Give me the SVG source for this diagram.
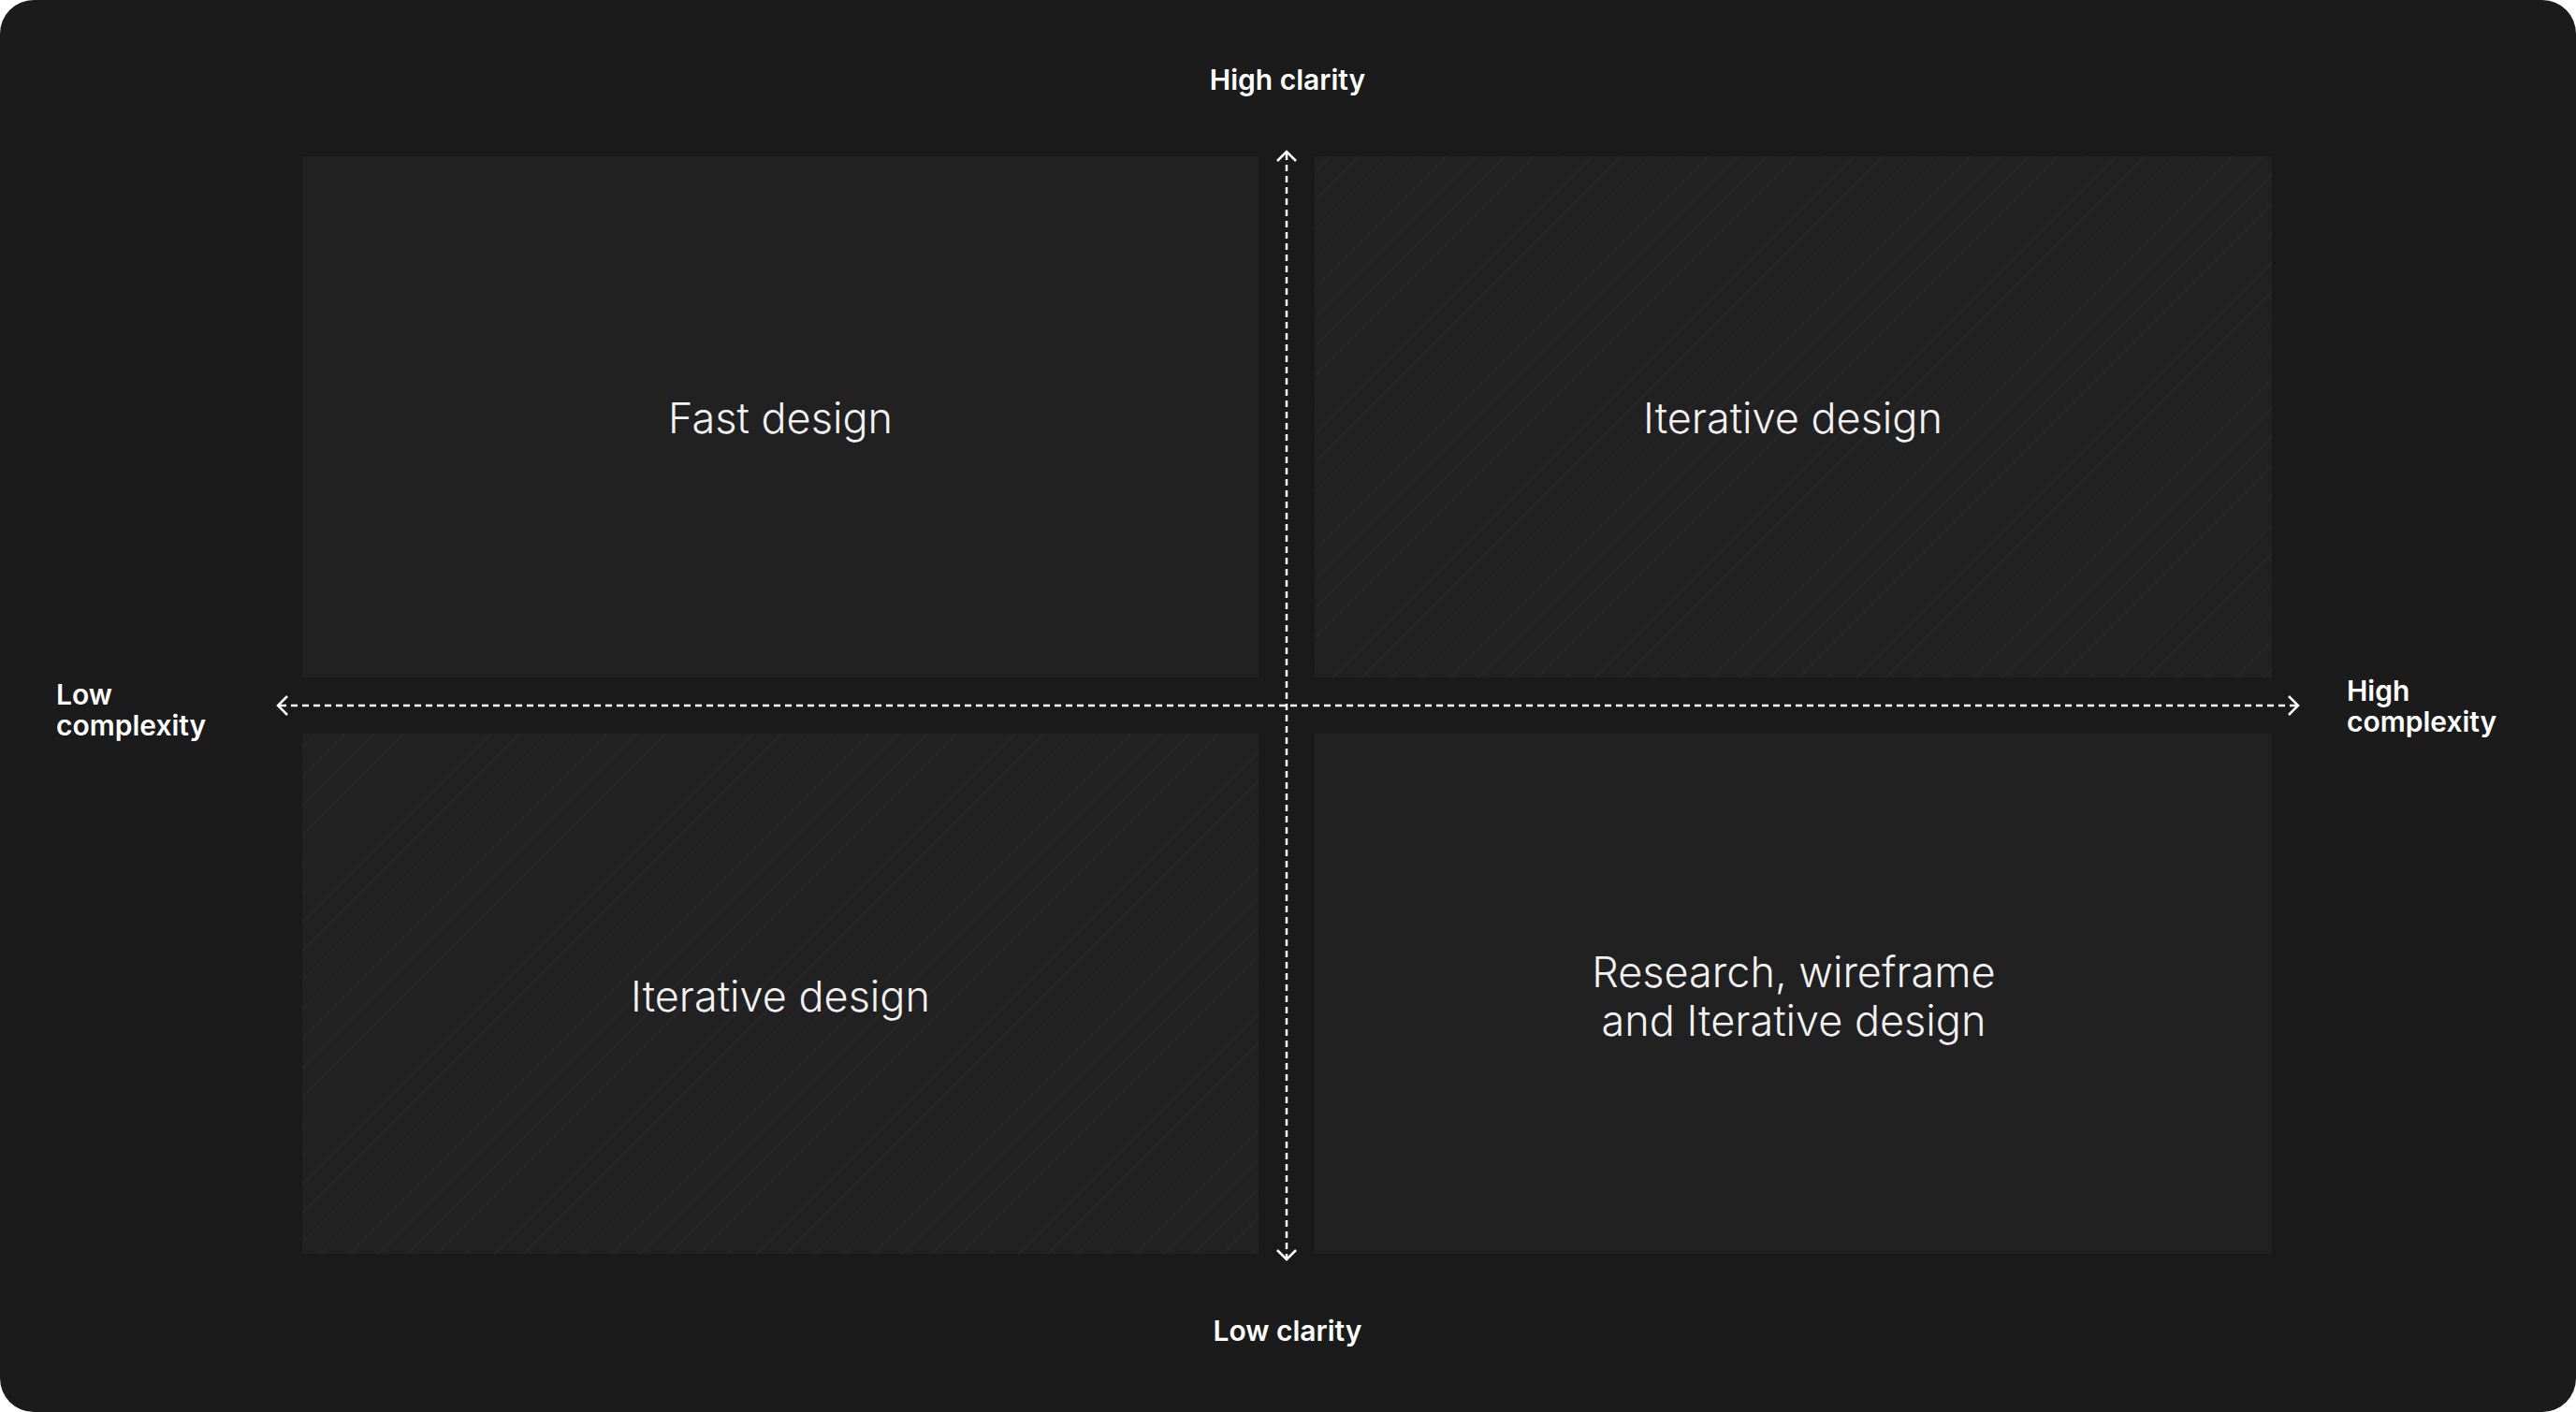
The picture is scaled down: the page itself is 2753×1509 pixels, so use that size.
<svg xmlns="http://www.w3.org/2000/svg" width="2753" height="1509" viewBox="0 0 2753 1509">
<style>
.q{fill:#212121}
.lbl{font-family:Inter,"Noto Sans",sans-serif;font-weight:300;font-size:45px;fill:#f2f2f2;text-anchor:middle}
.ax{font-family:Inter,"Noto Sans",sans-serif;font-weight:600;font-size:30px;fill:#ffffff}
.axis{stroke:#ffffff;stroke-width:2.5;stroke-dasharray:7 5;fill:none}
.head{stroke:#ffffff;stroke-width:2.5;fill:none}
</style>
<defs>
<pattern id="hatch" width="22" height="22" patternUnits="userSpaceOnUse" patternTransform="rotate(45)">
<rect width="22" height="22" fill="#212121"/>
<line x1="0" y1="0" x2="0" y2="22" stroke="#262626" stroke-width="5"/>
</pattern>
</defs>
<rect x="0" y="0" width="2753" height="1509" rx="36" fill="#1b1b1b"/>
<rect x="300" y="150" width="2150" height="1210" fill="#1a1a1a"/>
<g id="q-tl"><rect class="q" x="323" y="167" width="1022" height="557"/><text class="lbl" x="834" y="463">Fast design</text></g>
<g id="q-tr"><rect x="1405" y="167" width="1023" height="557" fill="url(#hatch)"/><text class="lbl" x="1916" y="463">Iterative design</text></g>
<g id="q-bl"><rect x="323" y="784" width="1022" height="556" fill="url(#hatch)"/><text class="lbl" x="834" y="1081">Iterative design</text></g>
<g id="q-br"><rect class="q" x="1405" y="784" width="1023" height="556"/><text class="lbl" x="1917" y="1055">Research, wireframe</text><text class="lbl" x="1917" y="1107">and Iterative design</text></g>
<g id="connectors">
<line class="axis" x1="1375" y1="164" x2="1375" y2="1344"/>
<polyline class="head" points="1365,172 1375,162 1385,172"/>
<polyline class="head" points="1365,1336 1375,1346 1385,1336"/>
<line class="axis" x1="299" y1="754" x2="2454" y2="754"/>
<polyline class="head" points="307,744 297,754 307,764"/>
<polyline class="head" points="2446,744 2456,754 2446,764"/>
</g>
<g id="axis-labels">
<text class="ax" x="1376" y="96" text-anchor="middle">High clarity</text>
<text class="ax" x="1376" y="1433" text-anchor="middle">Low clarity</text>
<text class="ax" x="60" y="753">Low</text>
<text class="ax" x="60" y="786">complexity</text>
<text class="ax" x="2508" y="749">High</text>
<text class="ax" x="2508" y="782">complexity</text>
</g>
</svg>
